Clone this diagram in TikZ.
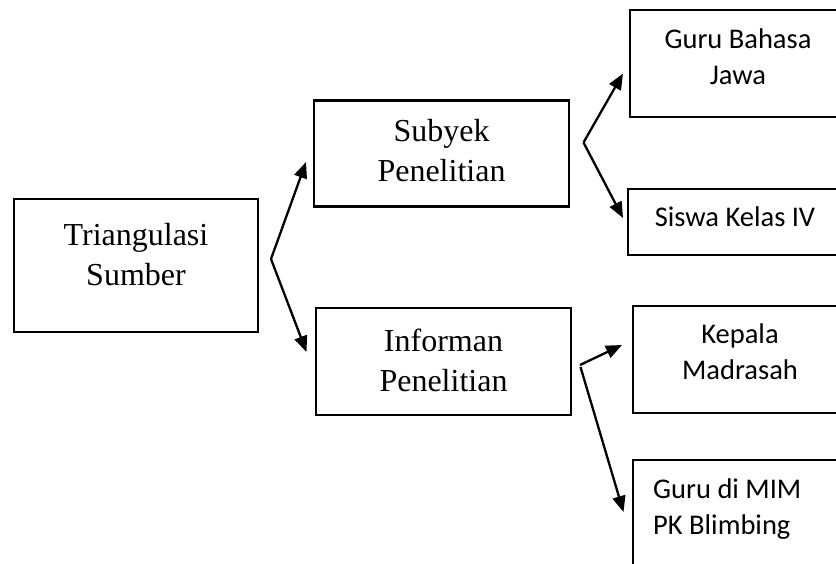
\documentclass[tikz,border=0pt]{standalone}
\usepackage{fontspec}
\setmainfont{Liberation Serif}
\newfontfamily\calibri{Carlito}
\usetikzlibrary{arrows.meta}
\begin{document}
\begin{tikzpicture}[x=1pt,y=-1pt,
  box/.style={draw=black,line width=2.6pt,fill=white,inner sep=0pt,minimum width=#1},
  serif/.style={font=\fontsize{32}{40}\selectfont,align=center,inner sep=0pt},
  sans/.style={font=\calibri\fontsize{28.5}{36}\selectfont,align=center,inner sep=0pt},
  arr/.style={line width=2.3pt,-{Triangle[length=16pt,width=13pt]}}]
\useasboundingbox (0,0) rectangle (836,564);
\fill[white] (0,0) rectangle (836,564);
\clip (0,0) rectangle (836,564);

% boxes
\node[box=244pt,minimum height=133pt] (tri) at (136,265.5) {};
\node[box=255pt,minimum height=106pt] (sub) at (441.5,153.5) {};
\node[box=255pt,minimum height=107pt] (inf) at (443.5,361.5) {};
\node[box=220pt,minimum height=107pt] (guru) at (740,63.5) {};
\node[box=222pt,minimum height=66pt] (siswa) at (739,222) {};
\node[box=217pt,minimum height=107pt] (kepala) at (741.5,359.5) {};
\node[box=217pt,minimum height=160pt] (mim) at (741.5,540) {};

% texts
\node[serif] (triT) at (136,254.4) {Triangulasi\\Sumber};
\node[serif] (subT) at (441.5,150.4) {Subyek\\Penelitian};
\node[serif] (infT) at (443.5,360.4) {Informan\\Penelitian};
\node[sans] (guruT) at (738,57) {Guru Bahasa\\Jawa};
\node[sans] (siswaT) at (735,217) {Siswa Kelas IV};
\node[sans] (kepalaT) at (740,352) {Kepala\\Madrasah};
\node[sans,align=left,anchor=west] (mimT) at (653,509.5) {Guru di MIM\\PK Blimbing};

% connector points
\coordinate (b1) at (271,259);
\coordinate (t1a) at (306,162);
\coordinate (t1b) at (306.5,352);
\coordinate (b2) at (583.5,142.5);
\coordinate (t2a) at (623,73.5);
\coordinate (t2b) at (623,218);
\coordinate (b3) at (580,365);
\coordinate (b3d) at (580.5,367);
\coordinate (t3a) at (622,345);
\coordinate (t3b) at (623.5,512);

\draw[arr] (b1) -- (t1a);
\draw[arr] (b1) -- (t1b);
\draw[arr] (b2) -- (t2a);
\draw[arr] (b2) -- (t2b);
\draw[arr] (b3) -- (t3a);
\draw[arr] (b3d) -- (t3b);
\end{tikzpicture}
\end{document}
